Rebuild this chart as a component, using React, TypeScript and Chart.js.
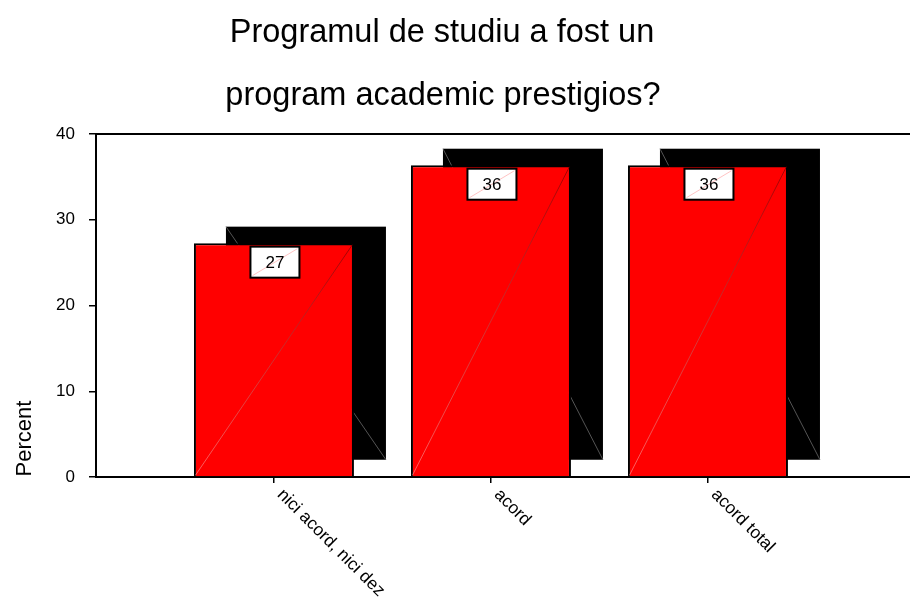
import React, { useEffect, useRef } from 'react';
import { Chart, registerables } from 'chart.js';

Chart.register(...registerables);

const TITLE_LINES = ['Programul de studiu a fost un', 'program academic prestigios?'];
const CATEGORIES = ['nici acord, nici dez', 'acord', 'acord total'];
const PERCENTS = [27.27, 36.36, 36.36];
const Y_TICKS = [0, 10, 20, 30, 40];
const Y_LABEL = 'Percent';

const FONT = '"Liberation Sans", Arial, Helvetica, sans-serif';
const X_MIN = -0.82;
const X_MAX = 2.931;
const SHADOW_DX = 32;
const SHADOW_DY = -16.5;

const decorPlugin = {
  id: 'decor',
  beforeDatasetsDraw(chart: any) {
    const ctx = chart.ctx;
    const meta = chart.getDatasetMeta(0);
    meta.data.forEach((el: any) => {
      const { x, y, base, width } = el.getProps(['x', 'y', 'base', 'width'], true);
      const left = x - width / 2 + SHADOW_DX;
      const top = y + SHADOW_DY;
      const h = base - y;
      ctx.save();
      ctx.fillStyle = '#000';
      ctx.fillRect(left, top, width, h);
      ctx.strokeStyle = '#6a6a6a';
      ctx.lineWidth = 0.8;
      ctx.beginPath();
      ctx.moveTo(left, top);
      ctx.lineTo(left + width, top + h);
      ctx.stroke();
      ctx.restore();
    });
  },
  afterDatasetsDraw(chart: any) {
    const ctx = chart.ctx;
    const meta = chart.getDatasetMeta(0);
    meta.data.forEach((el: any, i: number) => {
      const { x, y, base, width } = el.getProps(['x', 'y', 'base', 'width'], true);
      const left = x - width / 2;
      const right = x + width / 2;
      ctx.save();
      const g = ctx.createLinearGradient(left, base, right, y);
      g.addColorStop(0, 'rgba(255,150,150,0.8)');
      g.addColorStop(1, 'rgba(110,0,0,0.8)');
      ctx.strokeStyle = g;
      ctx.lineWidth = 0.8;
      ctx.beginPath();
      ctx.moveTo(left + 1.5, base - 1);
      ctx.lineTo(right - 1.5, y + 1.5);
      ctx.stroke();

      // value box
      const bw = 49;
      const bh = 31;
      const bx = x + 1 - bw / 2;
      const by = y + 3.5;
      ctx.fillStyle = '#fff';
      ctx.fillRect(bx, by, bw, bh);
      ctx.strokeStyle = 'rgba(255,160,160,0.9)';
      ctx.lineWidth = 0.7;
      ctx.beginPath();
      ctx.moveTo(bx + 2, by + bh - 2);
      ctx.lineTo(bx + bw - 2, by + 2);
      ctx.stroke();
      ctx.strokeStyle = '#000';
      ctx.lineWidth = 2;
      ctx.strokeRect(bx, by, bw, bh);
      ctx.fillStyle = '#000';
      ctx.font = `17px ${FONT}`;
      ctx.textAlign = 'center';
      ctx.textBaseline = 'middle';
      ctx.fillText(String(Math.round(PERCENTS[i])), bx + bw / 2, by + bh / 2 + 1);
      ctx.restore();
    });
  },
  afterDraw(chart: any) {
    const ctx = chart.ctx;
    const area = chart.chartArea;
    const xs = chart.scales.x;
    const ys = chart.scales.y;
    ctx.save();
    // top frame line
    ctx.strokeStyle = '#000';
    ctx.lineWidth = 2;
    const ty = ys.getPixelForValue(Y_TICKS[Y_TICKS.length - 1]);
    ctx.beginPath();
    ctx.moveTo(area.left, ty);
    ctx.lineTo(area.right, ty);
    ctx.stroke();

    // title
    ctx.fillStyle = '#000';
    ctx.font = `32.5px ${FONT}`;
    ctx.textAlign = 'center';
    ctx.textBaseline = 'alphabetic';
    ctx.fillText(TITLE_LINES[0], 442, 42);
    ctx.fillText(TITLE_LINES[1], 443, 105);

    // x labels (rotated clockwise)
    ctx.font = `17.5px ${FONT}`;
    ctx.textAlign = 'left';
    ctx.textBaseline = 'middle';
    CATEGORIES.forEach((c, i) => {
      const px = xs.getPixelForValue(i);
      ctx.save();
      ctx.translate(px + 6, area.bottom + 15);
      ctx.rotate(Math.PI / 4);
      ctx.fillText(c, 0, 0);
      ctx.restore();
    });

    // y axis title
    ctx.font = `22px ${FONT}`;
    ctx.textAlign = 'center';
    ctx.textBaseline = 'alphabetic';
    ctx.translate(31, 438.5);
    ctx.rotate(-Math.PI / 2);
    ctx.fillText(Y_LABEL, 0, 0);
    ctx.restore();
  },
};

export default function App() {
  const ref = useRef<HTMLCanvasElement>(null);
  useEffect(() => {
    if (!ref.current) return;
    const chart = new Chart(ref.current, {
      type: 'bar',
      data: {
        datasets: [
          {
            label: Y_LABEL,
            data: PERCENTS.map((v, i) => ({ x: i, y: v })),
            backgroundColor: '#ff0000',
            borderColor: '#000',
            borderWidth: 2,
            barPercentage: 160 / 217,
            categoryPercentage: 1,
          },
        ],
      },
      options: {
        animation: false,
        responsive: false,
        devicePixelRatio: 1,
        layout: { padding: { top: 134, left: 0, right: 0, bottom: 0 } },
        plugins: {
          legend: { display: false },
          title: { display: false },
          tooltip: { enabled: false },
        },
        scales: {
          x: {
            type: 'linear',
            min: X_MIN,
            max: X_MAX,
            offset: false,
            afterBuildTicks: (s: any) => {
              s.ticks = CATEGORIES.map((_, i) => ({ value: i }));
            },
            afterFit: (s: any) => {
              s.height = 122;
            },
            ticks: { display: false },
            grid: {
              display: true,
              offset: false,
              drawOnChartArea: false,
              drawTicks: true,
              tickLength: 6,
              color: '#000',
              lineWidth: 1.5,
            },
            border: { display: true, color: '#000', width: 2 },
          },
          y: {
            type: 'linear',
            min: 0,
            max: 40,
            afterBuildTicks: (s: any) => {
              s.ticks = Y_TICKS.map((v) => ({ value: v }));
            },
            afterFit: (s: any) => {
              s.width = 96;
            },
            ticks: {
              color: '#000',
              font: { family: FONT, size: 17 },
              padding: 14,
            },
            grid: {
              display: true,
              drawOnChartArea: false,
              drawTicks: true,
              tickLength: 7,
              color: '#000',
              lineWidth: 1.5,
            },
            border: { display: true, color: '#000', width: 2 },
          },
        },
      },
      plugins: [decorPlugin],
    } as any);
    return () => chart.destroy();
  }, []);
  return (
    <div style={{ position: 'absolute', left: 0, top: 0, width: 910, height: 599, background: '#fff' }}>
      <canvas ref={ref} width={910} height={599} style={{ display: 'block' }} />
    </div>
  );
}
